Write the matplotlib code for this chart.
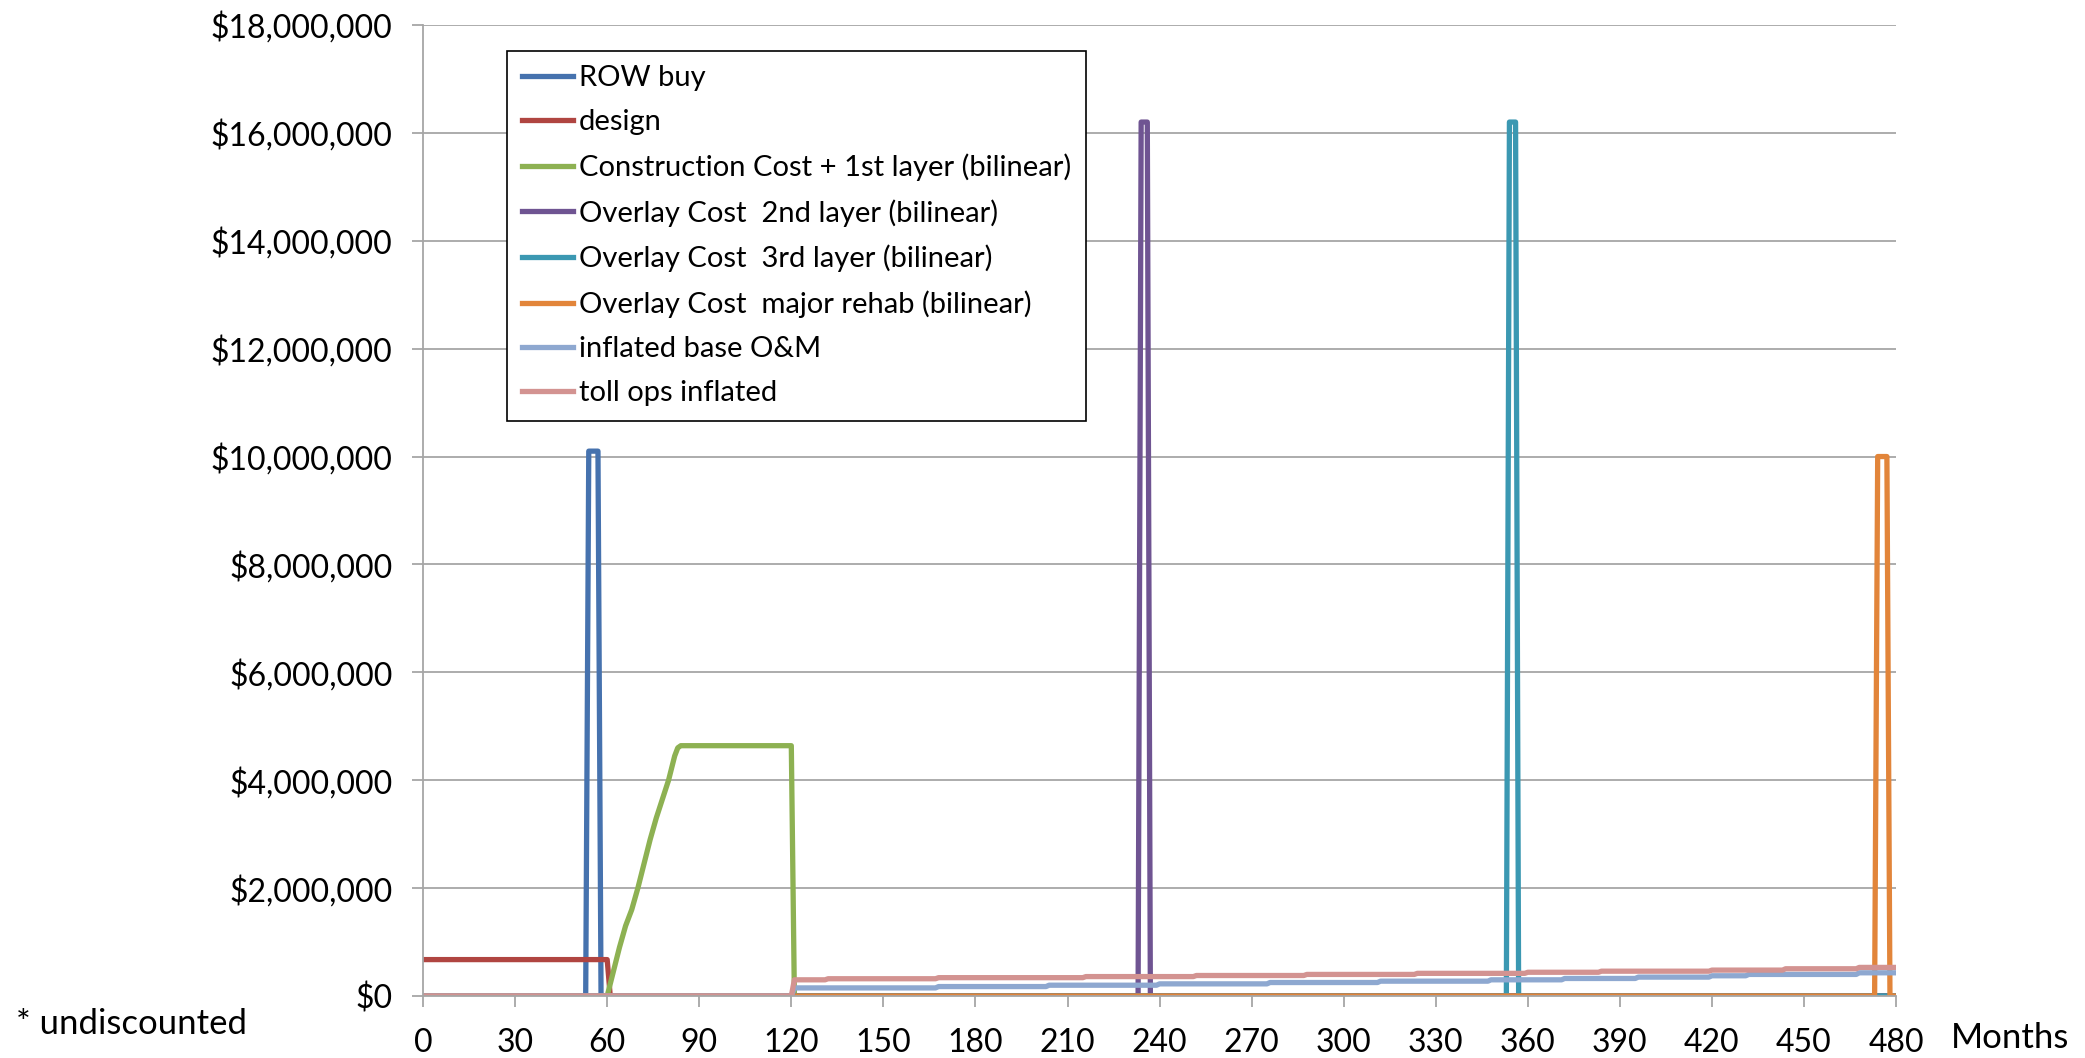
import numpy as np
import matplotlib
matplotlib.use("Agg")
import matplotlib.pyplot as plt
from matplotlib.ticker import FuncFormatter

plt.rcParams['font.family'] = ['Lato', 'DejaVu Sans']

# Datos (meses, dólares)
row_months = [0, 53, 54, 57, 58, 480]
row_values = [0, 0, 10.1e6, 10.1e6, 0, 0]

design_months = [0, 60, 61, 480]
design_values = [0.675e6, 0.675e6, 0, 0]

constr_months = [0, 60, 62, 64, 66, 68, 70, 72, 74, 76, 78, 80, 82, 83, 84, 120, 121, 480]
constr_values = [0, 0, 0.45e6, 0.9e6, 1.3e6, 1.6e6, 2.0e6, 2.45e6, 2.9e6, 3.3e6,
                 3.65e6, 4.0e6, 4.45e6, 4.6e6, 4.64e6, 4.64e6, 0, 0]

overlay2_months = [0, 233, 234, 236, 237, 480]
overlay2_values = [0, 0, 16.2e6, 16.2e6, 0, 0]

overlay3_months = [0, 353, 354, 356, 357, 480]
overlay3_values = [0, 0, 16.2e6, 16.2e6, 0, 0]

rehab_months = [0, 473, 474, 477, 478, 480]
rehab_values = [0, 0, 10.0e6, 10.0e6, 0, 0]

# escalones de O&M y peajes (mes en que cambia el nivel)
om_steps = [121, 168, 204, 240, 276, 312, 348, 372, 396, 420, 432, 468]
om_levels = [0.15e6, 0.175e6, 0.2e6, 0.225e6, 0.25e6, 0.275e6, 0.30e6,
             0.325e6, 0.35e6, 0.375e6, 0.40e6, 0.43e6]

toll_steps = [121, 132, 168, 216, 252, 288, 324, 360, 384, 420, 444, 468]
toll_levels = [0.30e6, 0.32e6, 0.34e6, 0.36e6, 0.38e6, 0.40e6, 0.42e6,
               0.44e6, 0.46e6, 0.48e6, 0.505e6, 0.53e6]

labels = ["ROW buy", "design", "Construction Cost + 1st layer (bilinear)",
          "Overlay Cost  2nd layer (bilinear)", "Overlay Cost  3rd layer (bilinear)",
          "Overlay Cost  major rehab (bilinear)", "inflated base O&M", "toll ops inflated"]
colors = ['#4672AE', '#B04541', '#8DB152', '#6F5492', '#3B98B2', '#E2853A',
          '#8EA8D0', '#D39391']


def steps_to_line(steps, levels, start=120, end=480):
    xs, ys = [0, start], [0, 0]
    for i, (m, v) in enumerate(zip(steps, levels)):
        nxt = steps[i + 1] - 1 if i + 1 < len(steps) else end
        xs += [m, nxt]
        ys += [v, v]
    return xs, ys


om_x, om_y = steps_to_line(om_steps, om_levels)
toll_x, toll_y = steps_to_line(toll_steps, toll_levels)

series = [(row_months, row_values), (design_months, design_values),
          (constr_months, constr_values), (overlay2_months, overlay2_values),
          (overlay3_months, overlay3_values), (rehab_months, rehab_values),
          (om_x, om_y), (toll_x, toll_y)]

fig = plt.figure(figsize=(20.85, 10.58), dpi=100)
ax = fig.add_axes([0.2029, 0.0586, 0.7065, 0.9178])

for (x, y), lab, c in zip(series, labels, colors):
    ax.plot(x, y, color=c, lw=3.8, label=lab, solid_joinstyle='round')

ax.set_xlim(0, 480)
ax.set_ylim(0, 18e6)
ax.set_xticks(np.arange(0, 481, 30))
ax.set_yticks(np.arange(0, 18e6 + 1, 2e6))
ax.yaxis.set_major_formatter(FuncFormatter(lambda v, p: "${:,.0f}".format(v)))
ax.grid(axis='y', color='#A6A6A6', lw=1.3)
ax.set_axisbelow(True)
for s in ['top', 'right']:
    ax.spines[s].set_visible(False)
for s in ['left', 'bottom']:
    ax.spines[s].set_color('#A6A6A6')
    ax.spines[s].set_linewidth(1.3)
ax.tick_params(axis='both', colors='#A6A6A6', length=8, width=1.3, labelsize=23,
               labelcolor='black')
ax.tick_params(axis='x', pad=15)
ax.tick_params(axis='y', pad=14)

fig.text(0.9357, 0.019, "Months", fontsize=25, ha='left', va='center')
fig.text(0.0077, 0.032, "* undiscounted", fontsize=25, ha='left', va='center')

leg = ax.legend(loc='upper left', bbox_to_anchor=(0.057, 0.9737), borderaxespad=0,
                fontsize=21, handlelength=1.75, handletextpad=0.22,
                labelspacing=0.62, borderpad=0.5, fancybox=False, framealpha=1,
                edgecolor='black')
leg.get_frame().set_linewidth(1.2)

plt.savefig("out.png", dpi=100)
